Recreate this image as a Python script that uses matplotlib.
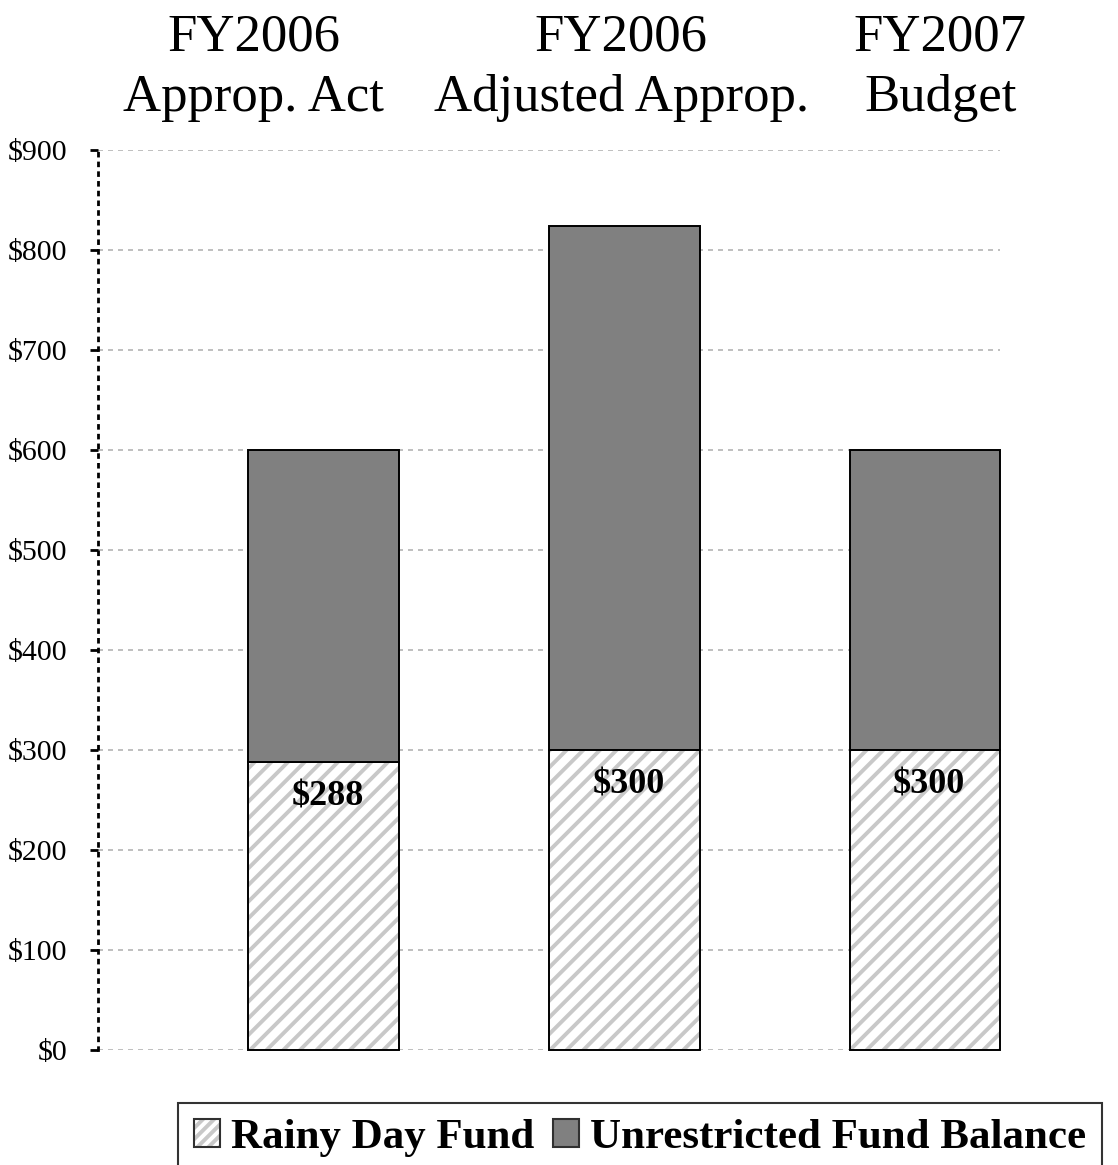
import matplotlib
matplotlib.use("Agg")
import matplotlib.pyplot as plt
from matplotlib.patches import Patch
from matplotlib.legend_handler import HandlerTuple
import numpy as np

# fund balance data ($ millions)
categories = ["FY2006\nApprop. Act", "FY2006\nAdjusted Approp.", "FY2007\nBudget"]
rainy_day = [288, 300, 300]
unrestricted = [312, 524, 300]
bar_labels = ["$288", "$300", "$300"]
yticks = [0, 100, 200, 300, 400, 500, 600, 700, 800, 900]

plt.rcParams["font.family"] = ["Liberation Serif", "DejaVu Serif"]
plt.rcParams["hatch.linewidth"] = 2.8
plt.rcParams["hatch.color"] = "#c8c8c8"

fig = plt.figure(figsize=(11.18, 11.65), dpi=100)
ax = fig.add_axes([0.0877, 0.0987, 0.807, 0.7725])

x = np.arange(1, len(categories) + 1)
width = 0.5

# hatched rainy day fund (hatch drawn in light gray, outline drawn separately)
ax.bar(x, rainy_day, width, color="white", edgecolor="#c8c8c8", hatch="//",
       linewidth=0, zorder=2, clip_on=False)
ax.bar(x, rainy_day, width, fill=False, edgecolor="black", linewidth=1.4,
       zorder=3, clip_on=False)
ax.bar(x, unrestricted, width, bottom=rainy_day, color="#808080",
       edgecolor="black", linewidth=1.4, zorder=3, clip_on=False)

for xi, val, lab in zip(x, rainy_day, bar_labels):
    ax.annotate(lab, (xi, val), xytext=(3, -13), textcoords="offset points",
                ha="center", va="top", fontsize=26, fontweight="bold", zorder=4)

# category headings above the plot
label_x = [0.767, 1.99, 3.05]
for lx, cat in zip(label_x, categories):
    ax.text(lx, 1.031, cat, transform=ax.get_xaxis_transform(), ha="center",
            va="bottom", fontsize=38, linespacing=1.33, multialignment="center")

ax.set_xlim(0.25, 3.25)
ax.set_ylim(0, 900)
ax.set_yticks(yticks)
ax.set_yticklabels([f"${v}" for v in yticks], fontsize=21.5)
ax.set_xticks([])
ax.tick_params(axis="y", length=6, width=2, pad=16, color="black")
ax.yaxis.grid(True, linestyle=(0, (3, 3)), color="#b4b4b4", linewidth=1.2, zorder=0)
ax.set_axisbelow(True)

for side in ["top", "right", "bottom"]:
    ax.spines[side].set_visible(False)
ax.spines["left"].set_linestyle((0, (1, 2.5)))
ax.spines["left"].set_linewidth(2)

rainy_handle = (
    Patch(facecolor="white", edgecolor="#c8c8c8", hatch="///", linewidth=0),
    Patch(fill=False, edgecolor="#303030", linewidth=1.5),
)
unres_handle = Patch(facecolor="#808080", edgecolor="#303030", linewidth=1.5)
leg = fig.legend([rainy_handle, unres_handle],
                 ["Rainy Day Fund", "Unrestricted Fund Balance"],
                 handler_map={tuple: HandlerTuple(ndivide=1, pad=0)},
                 loc="upper left", bbox_to_anchor=(0.159, 0.0535), ncol=2,
                 borderaxespad=0, frameon=True, fancybox=False,
                 handlelength=0.6, handleheight=0.6,
                 handletextpad=0.25, columnspacing=0.45, borderpad=0.38,
                 prop={"weight": "bold", "size": 31})
leg.get_frame().set_edgecolor("black")
leg.get_frame().set_linewidth(1.5)

fig.savefig("out.png", dpi=100)
